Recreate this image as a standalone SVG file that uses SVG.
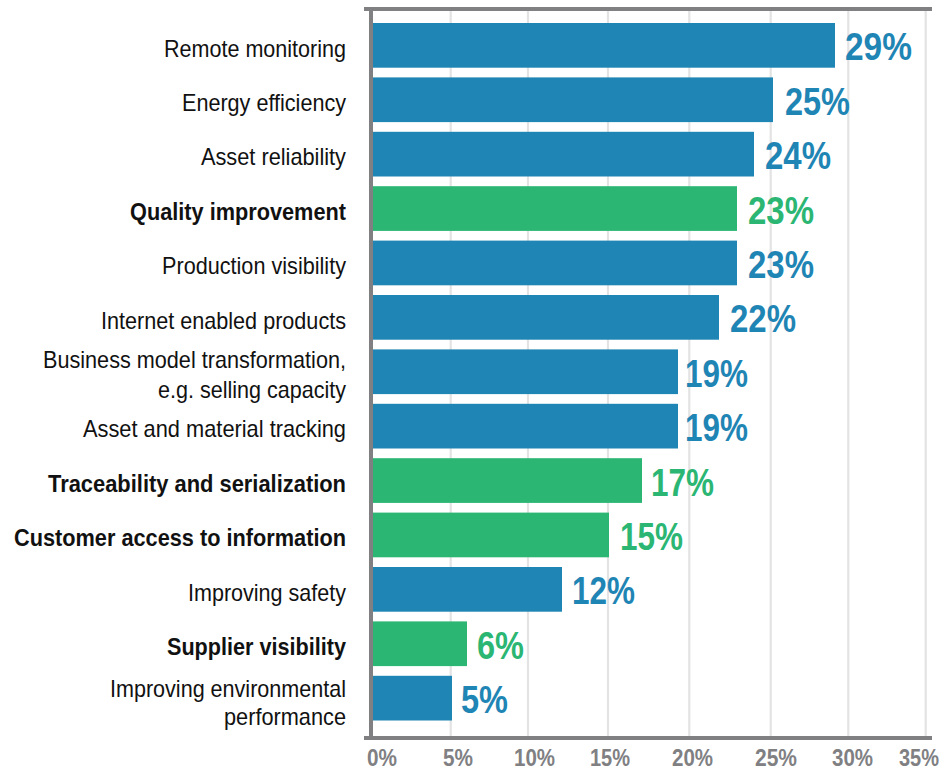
<svg xmlns="http://www.w3.org/2000/svg" width="944" height="771" viewBox="0 0 944 771">
<style>
.grid{stroke:#e3e3e3;stroke-width:2.2}
.axis{stroke:#808083;stroke-width:4}
.blue{fill:#1f85b4}
.green{fill:#2bb673}
.lab{font-family:"Liberation Sans",Arial,sans-serif;font-size:24px;fill:#111;text-anchor:end}
.b{font-weight:bold}
.val{font-family:"Liberation Sans",Arial,sans-serif;font-size:38px;font-weight:bold}
.vb{fill:#1f85b4}
.vg{fill:#2bb673}
.tick{font-family:"Liberation Sans",Arial,sans-serif;font-size:23px;font-weight:bold;fill:#808083}
</style>
<rect width="944" height="771" fill="#fff"/>
<g id="grid">
<line class="grid" x1="450.7" y1="11" x2="450.7" y2="736"/>
<line class="grid" x1="528" y1="11" x2="528" y2="736"/>
<line class="grid" x1="608" y1="11" x2="608" y2="736"/>
<line class="grid" x1="689.3" y1="11" x2="689.3" y2="736"/>
<line class="grid" x1="770.7" y1="11" x2="770.7" y2="736"/>
<line class="grid" x1="848.3" y1="11" x2="848.3" y2="736"/>
<line class="grid" x1="925.7" y1="11" x2="925.7" y2="736"/>
</g>
<g id="axes">
<line class="axis" x1="364" y1="9" x2="932" y2="9"/>
<line class="axis" x1="364" y1="738" x2="932" y2="738"/>
<line class="axis" x1="371" y1="7" x2="371" y2="740"/>
</g>
<g id="ticks">
<text class="tick" x="367" y="766" textLength="30" lengthAdjust="spacingAndGlyphs">0%</text>
<text class="tick" x="443" y="766" textLength="30" lengthAdjust="spacingAndGlyphs">5%</text>
<text class="tick" x="514" y="766" textLength="41" lengthAdjust="spacingAndGlyphs">10%</text>
<text class="tick" x="590" y="766" textLength="40" lengthAdjust="spacingAndGlyphs">15%</text>
<text class="tick" x="672" y="766" textLength="41" lengthAdjust="spacingAndGlyphs">20%</text>
<text class="tick" x="755" y="766" textLength="42" lengthAdjust="spacingAndGlyphs">25%</text>
<text class="tick" x="832" y="766" textLength="41" lengthAdjust="spacingAndGlyphs">30%</text>
<text class="tick" x="899" y="766" textLength="40" lengthAdjust="spacingAndGlyphs">35%</text>
</g>
<g id="n1"><rect class="blue" x="373" y="23" width="462" height="44.7"/><text class="lab" x="346" y="56.6" textLength="182" lengthAdjust="spacingAndGlyphs">Remote monitoring</text><text class="val vb" x="845" y="60.3" textLength="67" lengthAdjust="spacingAndGlyphs">29%</text></g>
<g id="n2"><rect class="blue" x="373" y="77.4" width="400" height="44.7"/><text class="lab" x="346" y="111" textLength="164" lengthAdjust="spacingAndGlyphs">Energy efficiency</text><text class="val vb" x="785" y="114.7" textLength="65" lengthAdjust="spacingAndGlyphs">25%</text></g>
<g id="n3"><rect class="blue" x="373" y="131.8" width="381" height="44.7"/><text class="lab" x="346" y="165.4" textLength="145" lengthAdjust="spacingAndGlyphs">Asset reliability</text><text class="val vb" x="765" y="169.1" textLength="66" lengthAdjust="spacingAndGlyphs">24%</text></g>
<g id="n4"><rect class="green" x="373" y="186.2" width="364" height="44.7"/><text class="lab b" x="346" y="219.8" textLength="216" lengthAdjust="spacingAndGlyphs">Quality improvement</text><text class="val vg" x="748" y="223.5" textLength="66" lengthAdjust="spacingAndGlyphs">23%</text></g>
<g id="n5"><rect class="blue" x="373" y="240.6" width="364" height="44.7"/><text class="lab" x="346" y="274.2" textLength="184" lengthAdjust="spacingAndGlyphs">Production visibility</text><text class="val vb" x="748" y="277.9" textLength="66" lengthAdjust="spacingAndGlyphs">23%</text></g>
<g id="n6"><rect class="blue" x="373" y="295" width="346" height="44.7"/><text class="lab" x="346" y="328.6" textLength="245" lengthAdjust="spacingAndGlyphs">Internet enabled products</text><text class="val vb" x="730" y="332.3" textLength="66" lengthAdjust="spacingAndGlyphs">22%</text></g>
<g id="n7"><rect class="blue" x="373" y="349.4" width="305" height="44.7"/><text class="lab" x="346" y="368.3" textLength="303" lengthAdjust="spacingAndGlyphs">Business model transformation,</text><text class="lab" x="346" y="398" textLength="188" lengthAdjust="spacingAndGlyphs">e.g. selling capacity</text><text class="val vb" x="685" y="386.7" textLength="63" lengthAdjust="spacingAndGlyphs">19%</text></g>
<g id="n8"><rect class="blue" x="373" y="403.8" width="305" height="44.7"/><text class="lab" x="346" y="437" textLength="263" lengthAdjust="spacingAndGlyphs">Asset and material tracking</text><text class="val vb" x="685" y="441.1" textLength="63" lengthAdjust="spacingAndGlyphs">19%</text></g>
<g id="n9"><rect class="green" x="373" y="458.2" width="269" height="44.7"/><text class="lab b" x="346" y="491.8" textLength="298" lengthAdjust="spacingAndGlyphs">Traceability and serialization</text><text class="val vg" x="651" y="495.5" textLength="63" lengthAdjust="spacingAndGlyphs">17%</text></g>
<g id="n10"><rect class="green" x="373" y="512.6" width="236" height="44.7"/><text class="lab b" x="346" y="546.2" textLength="332" lengthAdjust="spacingAndGlyphs">Customer access to information</text><text class="val vg" x="620" y="549.9" textLength="63" lengthAdjust="spacingAndGlyphs">15%</text></g>
<g id="n11"><rect class="blue" x="373" y="567" width="189" height="44.7"/><text class="lab" x="346" y="600.6" textLength="158" lengthAdjust="spacingAndGlyphs">Improving safety</text><text class="val vb" x="572" y="604.3" textLength="63" lengthAdjust="spacingAndGlyphs">12%</text></g>
<g id="n12"><rect class="green" x="373" y="621.4" width="94" height="44.7"/><text class="lab b" x="346" y="655" textLength="179" lengthAdjust="spacingAndGlyphs">Supplier visibility</text><text class="val vg" x="477" y="658.7" textLength="47" lengthAdjust="spacingAndGlyphs">6%</text></g>
<g id="n13"><rect class="blue" x="373" y="675.8" width="79" height="44.7"/><text class="lab" x="346" y="697" textLength="236" lengthAdjust="spacingAndGlyphs">Improving environmental</text><text class="lab" x="346" y="725" textLength="122" lengthAdjust="spacingAndGlyphs">performance</text><text class="val vb" x="461" y="713.1" textLength="47" lengthAdjust="spacingAndGlyphs">5%</text></g>
</svg>
